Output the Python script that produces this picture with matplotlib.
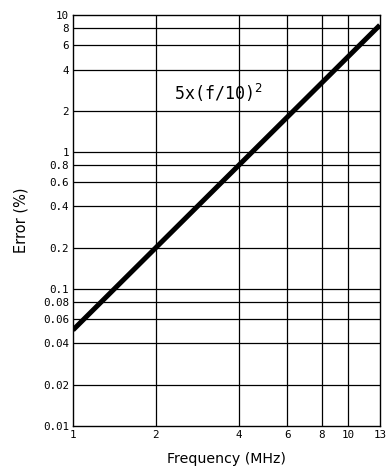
import numpy as np
import matplotlib.pyplot as plt

# error curve 5*(f/10)^2 read at the ends of the plotted line
freq = [1, 13]
error = [0.05, 8.45]

xticks = [1, 2, 4, 6, 8, 10, 13]
xticklabels = ['1', '2', '4', '6', '8', '10', '13']
yticks = [0.01, 0.02, 0.04, 0.06, 0.08, 0.1, 0.2, 0.4, 0.6, 0.8, 1, 2, 4, 6, 8, 10]
yticklabels = ['0.01', '0.02', '0.04', '0.06', '0.08', '0.1', '0.2', '0.4', '0.6', '0.8',
               '1', '2', '4', '6', '8', '10']

fig = plt.figure(figsize=(3.86, 4.73), dpi=100)
ax = fig.add_axes([0.189, 0.1, 0.795, 0.868])

ax.set_xscale('log')
ax.set_yscale('log')
ax.set_xlim(1, 13)
ax.set_ylim(0.01, 10)

# grid drawn as plain lines at the labelled values
for x in xticks[1:-1]:
    ax.axvline(x, color='black', lw=0.9)
for y in yticks[1:-1]:
    ax.axhline(y, color='black', lw=0.9)

ax.plot(freq, error, color='black', lw=3.6, solid_capstyle='butt')

ax.set_xticks(xticks)
ax.set_xticklabels(xticklabels)
ax.set_yticks(yticks)
ax.set_yticklabels(yticklabels)
ax.minorticks_off()
ax.tick_params(length=0, labelsize=7.8, pad=3)
for lab in ax.get_xticklabels() + ax.get_yticklabels():
    lab.set_family('DejaVu Sans Mono')

for s in ax.spines.values():
    s.set_linewidth(1.0)

ax.text(3.36, 2.7, r'5x(f/10)$^2$', fontsize=12, family='DejaVu Sans Mono',
        ha='center', va='center')

ax.set_xlabel('Frequency (MHz)', fontsize=10.2, labelpad=9)
ax.set_ylabel('Error (%)', fontsize=10.5, labelpad=10)

fig.savefig('out.png', dpi=100)
